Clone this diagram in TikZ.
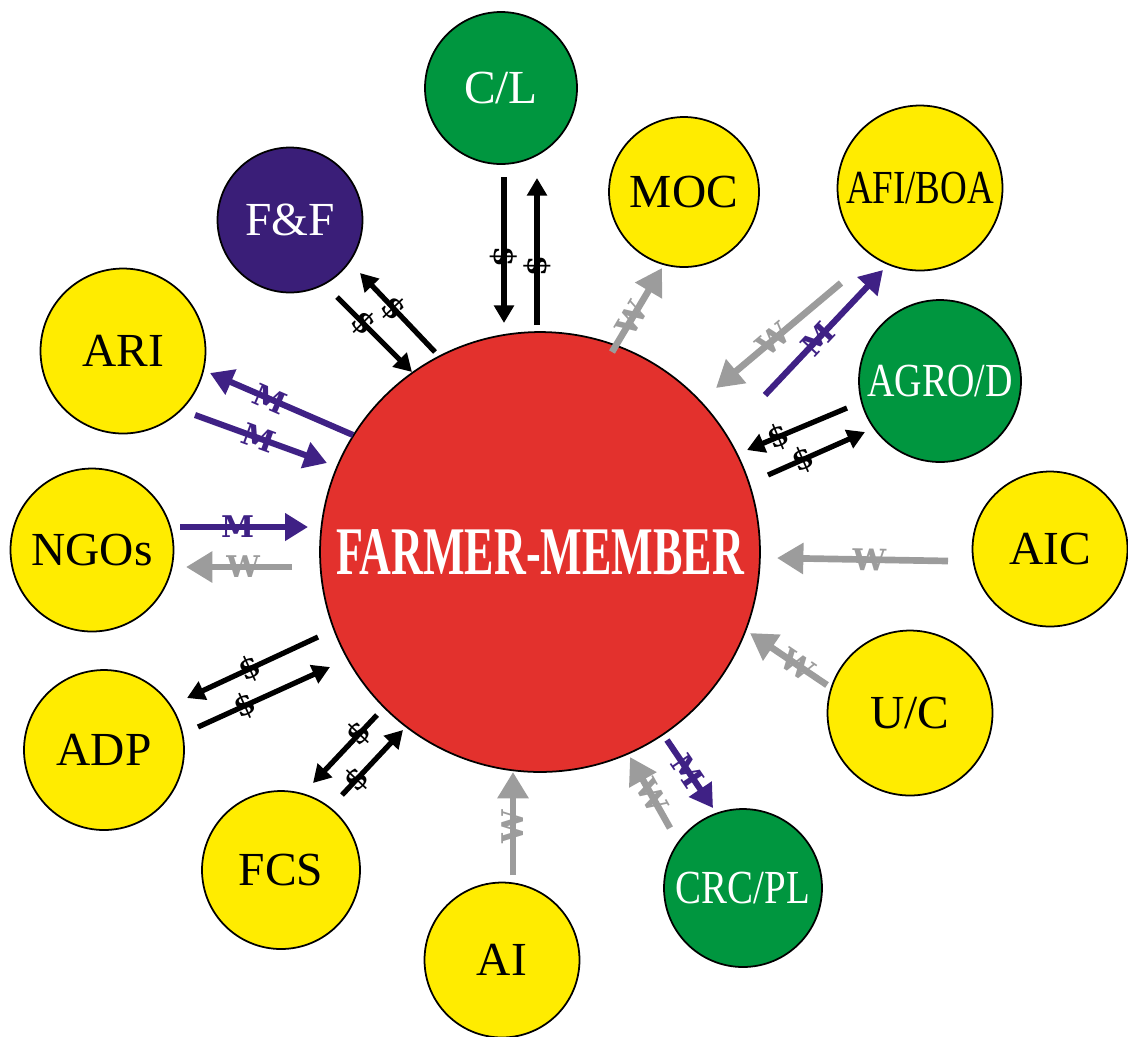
\documentclass[tikz,border=0pt]{standalone}
\usepackage{fontspec}
\setmainfont{Liberation Serif}
\newfontfamily\flowfont{DejaVu Serif}
\usetikzlibrary{arrows.meta, positioning}
\definecolor{myyellow}{HTML}{FFEC00}
\definecolor{mygreen}{HTML}{00963F}
\definecolor{mypurple}{HTML}{3A1E78}
\definecolor{myred}{HTML}{E3312D}
\definecolor{mygray}{HTML}{9C9C9C}
\definecolor{myviolet}{HTML}{3F2185}
\tikzset{
	agentnode/.style={
			circle,
			draw=black,
			line width=1pt,
			fill=myyellow,
			minimum size=32mm,
			inner sep=0pt,
			font=\fontsize{27}{30}\selectfont
		},
	greennode/.style={
			agentnode,
			fill=mygreen,
			text=white
		},
	purplenode/.style={
			agentnode,
			fill=mypurple,
			text=white
		},
	farmernode/.style={
			circle,
			draw=black,
			line width=1pt,
			fill=myred,
			minimum size=88mm,
			inner sep=0pt,
			text=white
		},
	moneyarrow/.style={
			color=black,
			line width=3pt,
			-{Triangle[length=10pt,width=11pt]}
		},
	wagearrow/.style={
			color=mygray,
			line width=3.8pt,
			-{Triangle[length=15pt,width=17pt]}
		},
	matarrow/.style={
			color=myviolet,
			line width=3.5pt,
			-{Triangle[length=13pt,width=15pt]}
		},
	flowlabel/.style={
			pos=#1,
			sloped,
			inner sep=0pt,
			font=\flowfont\fontsize{17}{17}\selectfont\bfseries
		},
	flowlabel/.default=0.5
}

\begin{document}
\begin{tikzpicture}[x=0.02cm, y=-0.02cm]
\useasboundingbox (0,0) rectangle (1128,1036);
\node[farmernode] (fm) at (540,552) {\resizebox{8.16cm}{0.9cm}{\bfseries FARMER-MEMBER}};

\node[greennode, minimum size=30.4mm] (cl) at (501,88) {C/L};
\node[purplenode, minimum size=29mm] (ff) at (290,220) {F\&F};
\node[agentnode, minimum size=30mm] (moc) at (684,192) {MOC};
\node[agentnode, minimum size=33mm] (afi) at (920,188) {\scalebox{0.78}[1]{AFI/BOA}};
\node[greennode, minimum size=32.4mm] (agro) at (940,381) {\scalebox{0.8}[1]{AGRO/D}};
\node[agentnode, minimum size=33mm] (ari) at (123,351) {ARI};
\node[agentnode, minimum size=32.6mm] (ngo) at (92,550) {NGOs};
\node[agentnode, minimum size=31mm] (aic) at (1050,549) {AIC};
\node[agentnode, minimum size=33mm] (uc) at (910,713) {U/C};
\node[agentnode, minimum size=32mm] (adp) at (104,750) {ADP};
\node[agentnode, minimum size=31.6mm] (fcs) at (281,870) {FCS};
\node[agentnode, minimum size=31mm] (ai) at (502,960) {AI};
\node[greennode, minimum size=31.6mm] (crc) at (743,888) {\scalebox{0.82}[1]{CRC/PL}};

% arrow ends
\coordinate (cl1) at (504,177);  \coordinate (cl2) at (504,323);
\coordinate (cl3) at (537,325);  \coordinate (cl4) at (537,178);
\coordinate (ff1) at (435,352);  \coordinate (ff2) at (360,273);
\coordinate (ff3) at (337,297);  \coordinate (ff4) at (412,372);
\coordinate (ag1) at (847,408);  \coordinate (ag2) at (747,450);
\coordinate (ag3) at (768,475);  \coordinate (ag4) at (865,432);
\coordinate (ad1) at (318,637);  \coordinate (ad2) at (187,698);
\coordinate (ad3) at (198,727);  \coordinate (ad4) at (330,667);
\coordinate (fc1) at (377,715);  \coordinate (fc2) at (313,783);
\coordinate (fc3) at (342,795);  \coordinate (fc4) at (403,730);

\coordinate (mo1) at (612,352);  \coordinate (mo2) at (662,268);
\coordinate (af1) at (841,283);  \coordinate (af2) at (716,388);
\coordinate (ai1) at (948,561);  \coordinate (ai2) at (777,558);
\coordinate (uc1) at (827,685);  \coordinate (uc2) at (750,633);
\coordinate (ng1) at (292,567);  \coordinate (ng2) at (186,567);
\coordinate (al1) at (513,875);  \coordinate (al2) at (513,772);
\coordinate (cr1) at (670,828);  \coordinate (cr2) at (630,757);

\coordinate (af3) at (765,395);  \coordinate (af4) at (883,270);
\coordinate (ar1) at (353,435);  \coordinate (ar2) at (210,373);
\coordinate (ar3) at (195,415);  \coordinate (ar4) at (327,463);
\coordinate (ng3) at (180,527);  \coordinate (ng4) at (308,527);
\coordinate (cr3) at (667,740);  \coordinate (cr4) at (713,808);

% money
\draw[moneyarrow] (cl1) -- (cl2) node[flowlabel=0.55] {\$};
\draw[moneyarrow] (cl3) -- (cl4) node[flowlabel=0.4] {\$};
\draw[moneyarrow] (ff1) -- (ff2) node[flowlabel=0.55] {\$};
\draw[moneyarrow] (ff3) -- (ff4) node[flowlabel=0.35] {\$};
\draw[moneyarrow] (ag1) -- (ag2) node[flowlabel=0.68] {\$};
\draw[moneyarrow] (ag3) -- (ag4) node[flowlabel=0.36] {\$};
\draw[moneyarrow] (ad1) -- (ad2) node[flowlabel=0.52] {\$};
\draw[moneyarrow] (ad3) -- (ad4) node[flowlabel=0.36] {\$};
\draw[moneyarrow] (fc1) -- (fc2) node[flowlabel=0.28] {\$};
\draw[moneyarrow] (fc3) -- (fc4) node[flowlabel=0.24] {\$};

% W
\draw[wagearrow] (mo1) -- (mo2) node[flowlabel=0.4] {W};
\draw[wagearrow] (af1) -- (af2) node[flowlabel=0.54] {W};
\draw[wagearrow] (ai1) -- (ai2) node[flowlabel=0.46] {W};
\draw[wagearrow] (uc1) -- (uc2) node[flowlabel=0.38] {W};
\draw[wagearrow] (ng1) -- (ng2) node[flowlabel=0.46] {W};
\draw[wagearrow] (al1) -- (al2) node[flowlabel=0.47] {W};
\draw[wagearrow] (cr1) -- (cr2) node[flowlabel=0.45] {W};

% M
\draw[matarrow] (af3) -- (af4) node[flowlabel=0.45] {M};
\draw[matarrow] (ar1) -- (ar2) node[flowlabel=0.58] {M};
\draw[matarrow] (ar3) -- (ar4) node[flowlabel=0.48] {M};
\draw[matarrow] (ng3) -- (ng4) node[flowlabel=0.45] {M};
\draw[matarrow] (cr3) -- (cr4) node[flowlabel=0.45] {M};
\end{tikzpicture}
\end{document}
